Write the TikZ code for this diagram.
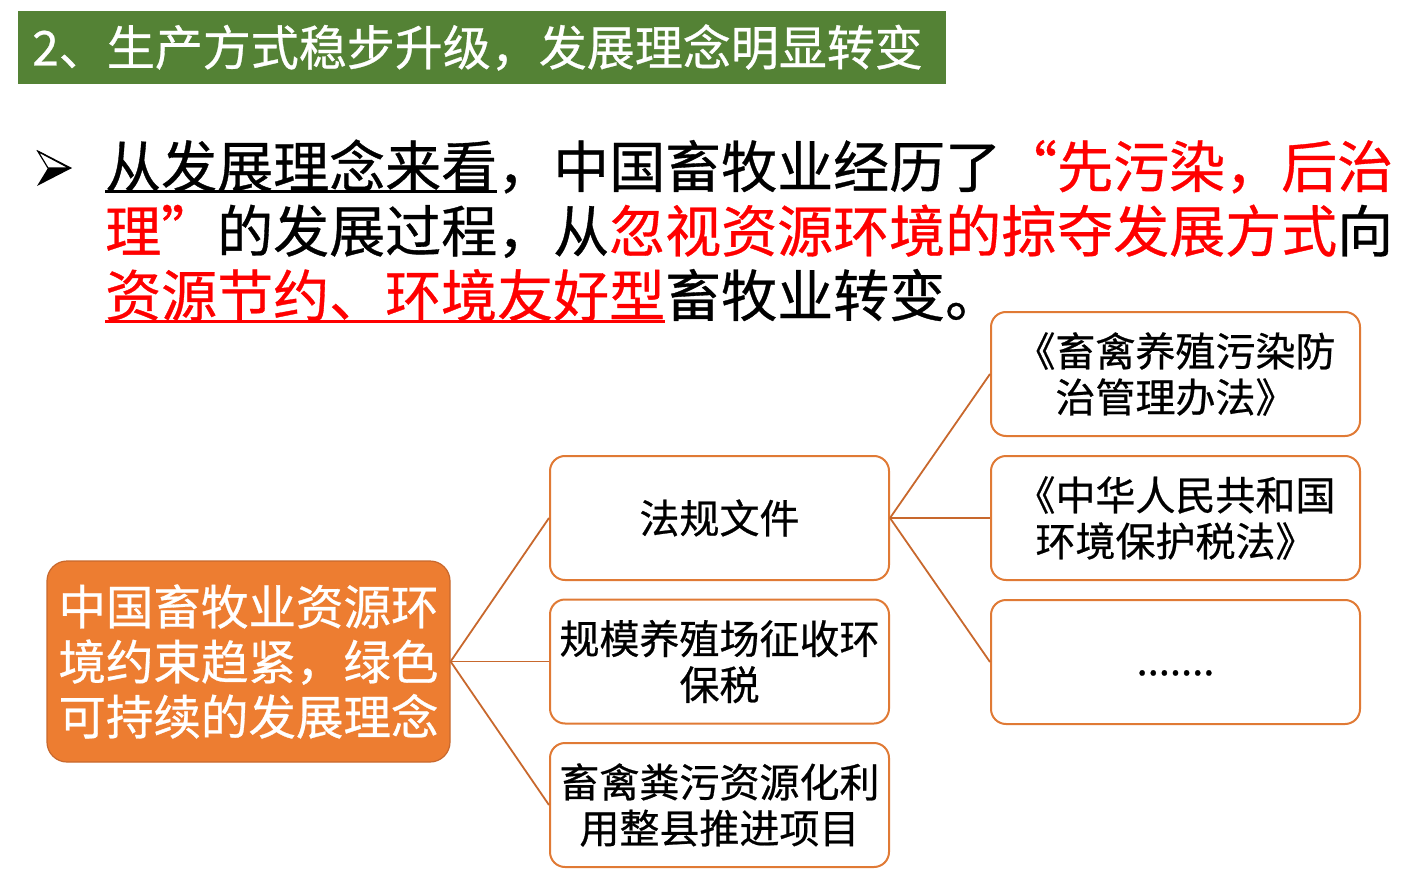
\documentclass[tikz,border=0pt]{standalone}
\usepackage{fontspec}
\setmainfont{Noto Sans CJK SC}[FakeBold=0.6]
\definecolor{titlegreen}{HTML}{548235}
\definecolor{boxorange}{HTML}{ED7D31}
\definecolor{edgeorange}{HTML}{C8682D}
\definecolor{bordorange}{HTML}{E07A35}
\newcommand\myul[1]{\setbox0\hbox{#1}\rlap{\rule[-6pt]{\wd0}{3pt}}\box0}
\newcommand\oq{\makebox[1em][r]{“}}
\newcommand\cq{\makebox[1em][l]{”}}
\tikzset{
  bodyline/.style={anchor=base west, inner sep=0pt, font=\fontsize{56}{56}\selectfont},
  rootbox/.style={rounded corners=20pt, fill=boxorange, draw=edgeorange, line width=1.2pt,
    minimum width=403pt, minimum height=201pt, text=white, align=center, inner sep=0pt,
    font=\fontsize{47.5}{55}\selectfont},
  midbox/.style={rounded corners=15pt, fill=white, draw=bordorange, line width=2pt,
    minimum width=339pt, minimum height=124pt, align=center, inner sep=0pt,
    font=\fontsize{40}{46}\selectfont},
  rightbox/.style={midbox, minimum width=369pt},
  conn/.style={draw=edgeorange, line width=1.8pt}
}
\begin{document}
\begin{tikzpicture}[x=1pt,y=-1pt]
\useasboundingbox (0,0) rectangle (1428,880);
% title bar
\node[fill=titlegreen, anchor=north west, minimum width=928pt, minimum height=73pt, inner sep=0pt] (title) at (18,11) {};
\node[anchor=west, text=white, inner sep=0pt, font=\fontsize{48}{48}\selectfont] (titletext) at (32,47.5) {2、生产方式稳步升级，发展理念明显转变};
% bullet
\fill[black] (37,150) -- (72,168) -- (37,186) -- (48,168) -- cycle;
\filldraw[fill=white, draw=black, line width=1.2pt, line join=miter] (38,151.5) -- (69,168) -- (48,168) -- cycle;
% body text
\node[bodyline] (l1) at (105,187.5) {\myul{从发展理念来看}，中国畜牧业经历了{\color{red}\oq 先污染，后治}};
\node[bodyline] (l2) at (105,252) {{\color{red}理\cq}的发展过程，从{\color{red}忽视资源环境的掠夺发展方式}向};
\node[bodyline] (l3) at (105,316.5) {{\color{red}\myul{资源节约、环境友好型}}畜牧业转变。};
% boxes
\node[rootbox] (root) at (248.5,661.5) {中国畜牧业资源环\\境约束趋紧，绿色\\可持续的发展理念};
\node[midbox] (m1) at (719.5,518) {法规文件};
\node[midbox] (m2) at (719.5,661.5) {规模养殖场征收环\\保税};
\node[midbox] (m3) at (719.5,805) {畜禽粪污资源化利\\用整县推进项目};
\node[rightbox] (r1) at (1175.5,374) {《畜禽养殖污染防\\治管理办法》};
\node[rightbox] (r2) at (1175.5,518) {《中华人民共和国\\环境保护税法》};
\node[rightbox] (r3) at (1175.5,662) {\raisebox{2pt}{.......}\vphantom{中}};
% connectors
\draw[conn] (root.east) -- (m1.west);
\draw[conn] (root.east) -- (m2.west);
\draw[conn] (root.east) -- (m3.west);
\draw[conn] (m1.east) -- (r1.west);
\draw[conn] (m1.east) -- (r2.west);
\draw[conn] (m1.east) -- (r3.west);
\end{tikzpicture}
\end{document}
